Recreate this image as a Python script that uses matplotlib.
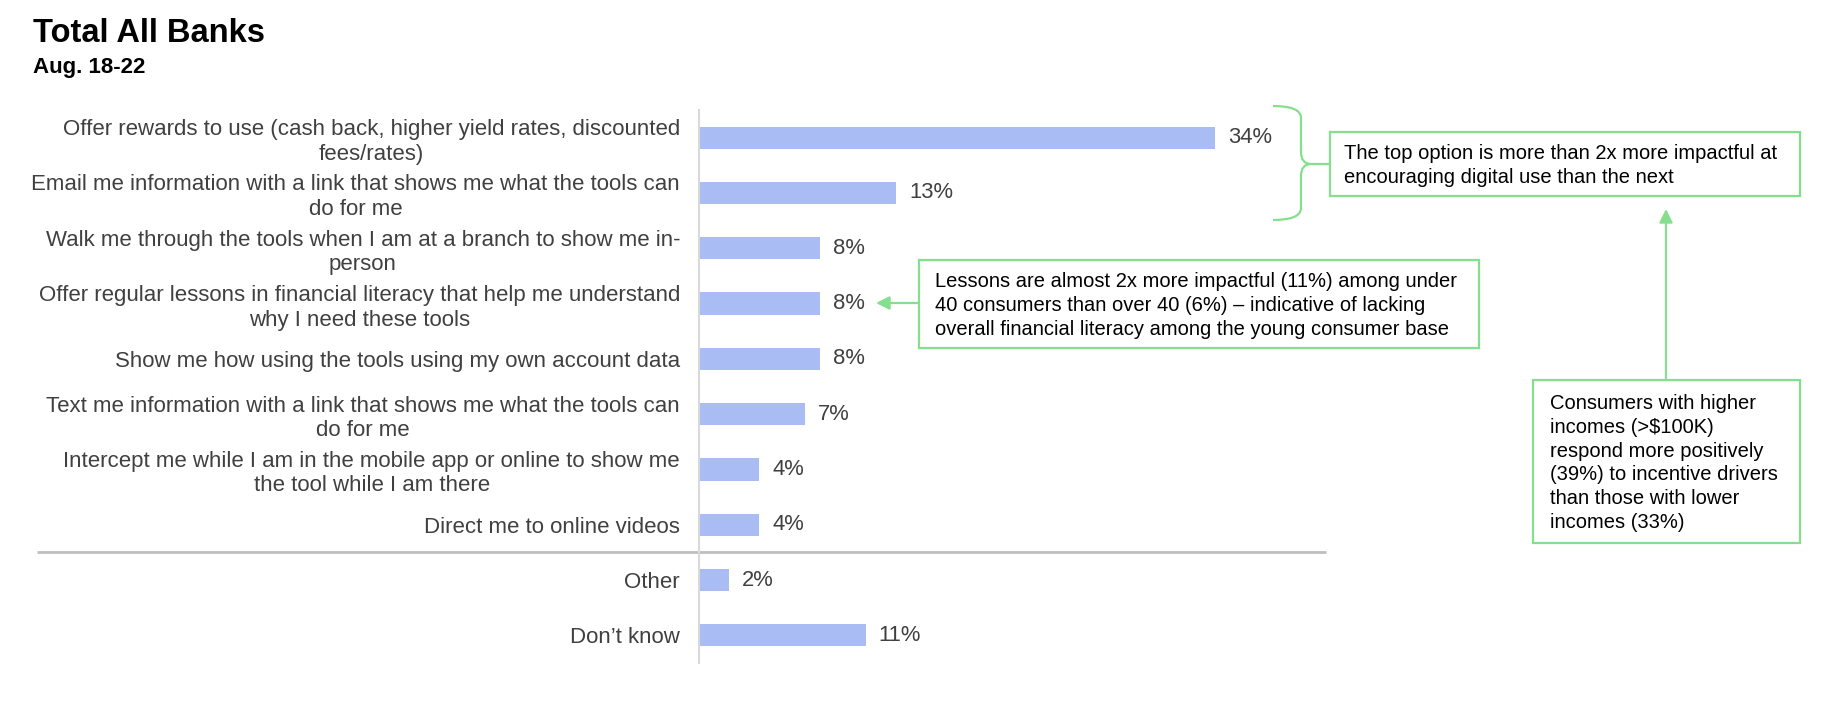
import matplotlib
matplotlib.use("Agg")
import matplotlib.pyplot as plt
from matplotlib.patches import Rectangle, PathPatch, FancyArrowPatch
from matplotlib.path import Path
from matplotlib.transforms import blended_transform_factory

plt.rcParams['font.family'] = ['Liberation Sans', 'DejaVu Sans']

categories = [
    "Offer rewards to use (cash back, higher yield rates, discounted\nfees/rates)",
    "Email me information with a link that shows me what the tools can\ndo for me",
    "Walk me through the tools when I am at a branch to show me in-\nperson",
    "Offer regular lessons in financial literacy that help me understand\nwhy I need these tools",
    "Show me how using the tools using my own account data",
    "Text me information with a link that shows me what the tools can\ndo for me",
    "Intercept me while I am in the mobile app or online to show me\nthe tool while I am there",
    "Direct me to online videos",
    "Other",
    "Don\u2019t know",
]
values = [34, 13, 8, 8, 8, 7, 4, 4, 2, 11]
value_labels = [f"{v}%" for v in values]

title = "Total All Banks"
subtitle = "Aug. 18-22"
note_top = "The top option is more than 2x more impactful at\nencouraging digital use than the next"
note_lessons = ("Lessons are almost 2x more impactful (11%) among under\n"
                "40 consumers than over 40 (6%) \u2013 indicative of lacking\n"
                "overall financial literacy among the young consumer base")
note_income = ("Consumers with higher\nincomes (>\\$100K)\nrespond more positively\n"
               "(39%) to incentive drivers\nthan those with lower\nincomes (33%)")

W, H = 1844, 702
BAR = '#a9bcf3'
GREEN = '#84e08f'
GRAY = '#404040'

fig = plt.figure(figsize=(W / 100, H / 100), dpi=100)

def fx(x):
    return x / W

def fy(y):
    return 1 - y / H

# axes: x=0 at 698.5 px, right edge 1326 px; rows 110..663 px
left, right, top, bottom = 698.5, 1326, 110, 663
ax = fig.add_axes([fx(left), fy(bottom), (right - left) / W, (bottom - top) / H])
px_per_pct = (1215 - 698.5) / 34
ax.set_xlim(0, (right - left) / px_per_pct)
ax.set_ylim(len(categories) - 0.5, -0.5)

ypos = list(range(len(categories)))
ax.barh(ypos, values, height=0.4, color=BAR, edgecolor='none')
for y, v, lab in zip(ypos, values, value_labels):
    ax.annotate(lab, (v, y), xytext=(9.5, 0), textcoords='offset points',
                ha='left', va='center', fontsize=15.8, color=GRAY)

ax.set_yticks(ypos)
ax.set_yticklabels(categories, fontsize=16, color=GRAY)
for t in ax.get_yticklabels():
    t.set_multialignment('center')
    t.set_linespacing(1.22)
ax.tick_params(axis='y', length=0, pad=13.3)
ax.set_xticks([])
for s in ['top', 'right', 'bottom']:
    ax.spines[s].set_visible(False)
ax.spines['left'].set_color('#d9d9d9')
ax.spines['left'].set_linewidth(1.5)

# separator between main options and Other/Don't know
tr = blended_transform_factory(fig.transFigure, ax.transData)
ax.plot([fx(37), fx(1326)], [7.5, 7.5], transform=tr, color='#bfbfbf',
        lw=2, clip_on=False, solid_capstyle='butt')

# titles
fig.text(fx(33), fy(33), title, fontsize=23.5, fontweight='bold', ha='left', va='center')
fig.text(fx(33), fy(67), subtitle, fontsize=16, fontweight='bold', ha='left', va='center')

def box(x0, y0, x1, y1, text, pad=14):
    r = Rectangle((fx(x0), fy(y1)), fx(x1) - fx(x0), fy(y0) - fy(y1),
                  transform=fig.transFigure, facecolor='white', edgecolor=GREEN, lw=1.6)
    fig.add_artist(r)
    fig.text(fx(x0 + pad), fy((y0 + y1) / 2 + 1.5), text, fontsize=14.5, color='black',
             ha='left', va='center', linespacing=1.33)

box(1330, 132, 1800, 196, note_top)
box(919, 260, 1479, 348, note_lessons, pad=16)
box(1533, 380, 1800, 543, note_income, pad=17)

# brace
x0, x1, x2 = 1273, 1301, 1330
yt, ym, yb = 106, 164, 220
r = 12
pts = [(x0, yt), (x1, yt), (x1, yt + r), (x1, ym - r), (x1, ym), (x1 + 10, ym), (x2, ym),
       (x1 + 10, ym), (x1, ym), (x1, ym + r), (x1, yb - r), (x1, yb), (x0, yb)]
codes = [Path.MOVETO, Path.CURVE3, Path.CURVE3, Path.LINETO, Path.CURVE3, Path.CURVE3, Path.LINETO,
         Path.MOVETO, Path.CURVE3, Path.CURVE3, Path.LINETO, Path.CURVE3, Path.CURVE3]
path = Path([(fx(a), fy(b)) for a, b in pts], codes)
fig.add_artist(PathPatch(path, transform=fig.transFigure, facecolor='none',
                         edgecolor=GREEN, lw=1.6))

# arrows
for (sx, sy), (ex, ey) in [((919, 303), (876, 303)), ((1666, 380), (1666, 209))]:
    a = FancyArrowPatch((fx(sx), fy(sy)), (fx(ex), fy(ey)), transform=fig.transFigure,
                        arrowstyle='-|>,head_length=8,head_width=4', color=GREEN, lw=1.6,
                        shrinkA=0, shrinkB=0)
    fig.add_artist(a)

fig.savefig('out.png', dpi=100)
